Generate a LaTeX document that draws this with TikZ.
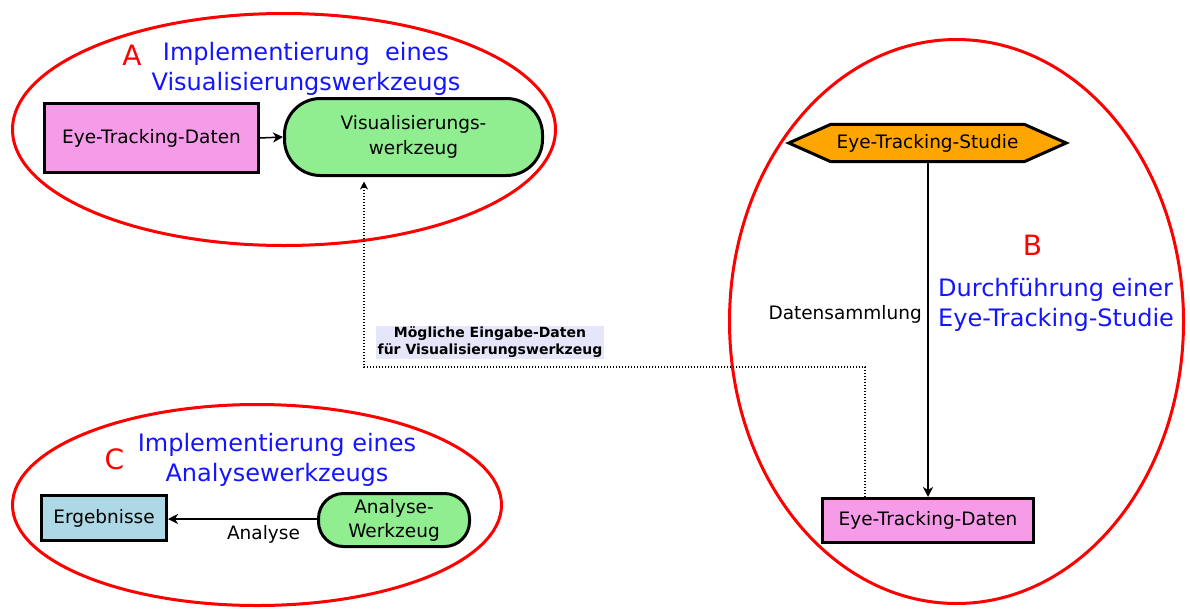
\documentclass[tikz,border=0pt]{standalone}
\usepackage{fontspec}
\setmainfont{DejaVu Sans}
\usetikzlibrary{arrows.meta,shapes.geometric,calc}

\definecolor{datapink}{RGB}{245,155,232}
\definecolor{toolgreen}{RGB}{144,238,144}
\definecolor{studyorange}{RGB}{255,165,0}
\definecolor{resultblue}{RGB}{173,216,230}
\definecolor{notelavender}{RGB}{230,230,250}
\definecolor{titleblue}{RGB}{20,20,255}

\tikzset{
  groupring/.style={ellipse, draw=red, line width=3pt, inner sep=0pt},
  grouptag/.style={text=red, font=\fontsize{28}{30}\selectfont, inner sep=0pt},
  grouptitle/.style={text=titleblue, font=\fontsize{24}{30}\selectfont, inner sep=0pt},
  basebox/.style={draw=black, line width=3pt, inner sep=0pt, align=center,
    font=\fontsize{18.5}{25}\selectfont},
  databox/.style={basebox, fill=datapink},
  toolbox/.style={basebox, fill=toolgreen},
  resultbox/.style={basebox, fill=resultblue},
  studybox/.style={inner sep=0pt, font=\fontsize{18.5}{25}\selectfont},
  studyshape/.style={draw=black, fill=studyorange, line width=3pt, line join=miter},
  flow/.style={draw=black, line width=1.5pt, -{Stealth[length=10pt,width=10pt,inset=3pt]}},
  hint/.style={draw=black, line width=1.5pt, dash pattern=on 1.5pt off 1.5pt,
    -{Stealth[length=8pt,width=8pt,inset=2.5pt]}},
  edgetext/.style={inner sep=0pt, font=\fontsize{18.5}{22}\selectfont},
  notetext/.style={fill=notelavender, inner sep=1.5pt, align=center,
    font=\bfseries\fontsize{14}{17}\selectfont},
}

\begin{document}
\begin{tikzpicture}[x=1pt, y=-1pt]
\useasboundingbox (0,0) rectangle (1190,608);

% group outlines
\node[groupring, minimum width=543pt, minimum height=232pt] (grpA) at (284,129.5) {};
\node[groupring, minimum width=454pt, minimum height=564pt] (grpB) at (956.5,321.5) {};
\node[groupring, minimum width=489pt, minimum height=201pt] (grpC) at (257,505) {};

% group headings (base anchor = baseline of the last line)
\node[grouptag, anchor=base] (tagA) at (132,65) {A};
\node[grouptitle, anchor=base, align=center] (titleA) at (306,90)
  {Implementierung~ eines\\Visualisierungswerkzeugs};
\node[grouptag, anchor=base] (tagB) at (1032.5,255) {B};
\node[grouptitle, anchor=base west, align=left] (titleB) at (938,326)
  {Durchführung einer\\Eye-Tracking-Studie};
\node[grouptag, anchor=base] (tagC) at (114.5,469.5) {C};
\node[grouptitle, anchor=base, align=center] (titleC) at (277,481)
  {Implementierung eines\\Analysewerkzeugs};

% group A: visualisation tool
\node[databox, minimum width=214pt, minimum height=69pt] (etdA) at (151.5,138) {Eye-Tracking-Daten};
\node[toolbox, rounded corners=36pt, minimum width=258pt, minimum height=77pt] (vis) at (413.5,137)
  {Visualisierungs-\\werkzeug};
\draw[flow] (etdA.east) -- (vis.west);

% group B: study
\node[studybox, minimum width=277pt, minimum height=37pt] (study) at (927.5,143) {Eye-Tracking-Studie};
\draw[studyshape] (study.west) -- ($(study.north west)+(42,0)$) -- ($(study.north east)+(-42,0)$)
  -- (study.east) -- ($(study.south east)+(-42,0)$) -- ($(study.south west)+(42,0)$) -- cycle;
\node[studybox] at (study.center) {Eye-Tracking-Studie};
\node[databox, minimum width=211pt, minimum height=44pt] (etdB) at (928,520.5) {Eye-Tracking-Daten};
\draw[flow] (study.south -| etdB.north) -- (etdB.north);
\node[edgetext, anchor=base east] (collect) at (922,319) {Datensammlung};

% group C: analysis tool
\node[resultbox, minimum width=125pt, minimum height=45pt] (result) at (104,518) {Ergebnisse};
\node[toolbox, rounded corners=25pt, minimum width=151pt, minimum height=53pt] (ana) at (394,520)
  {Analyse-\\[-1pt]Werkzeug};
\draw[flow] (ana.west |- 0,519) -- (result.east |- 0,519);
\node[edgetext, anchor=base] (analysis) at (263.5,539) {Analyse};

% collected data as possible input for the visualisation tool
\coordinate (bendR) at (865,367);
\coordinate (bendL) at (364,367);
\draw[hint, shorten >=4.5pt] (etdB.north -| bendR) -- (bendR) -- (bendL) -- (vis.south -| bendL);
\node[notetext] (note) at (490,342.5) {Mögliche Eingabe-Daten\\für Visualisierungswerkzeug};
\end{tikzpicture}
\end{document}
